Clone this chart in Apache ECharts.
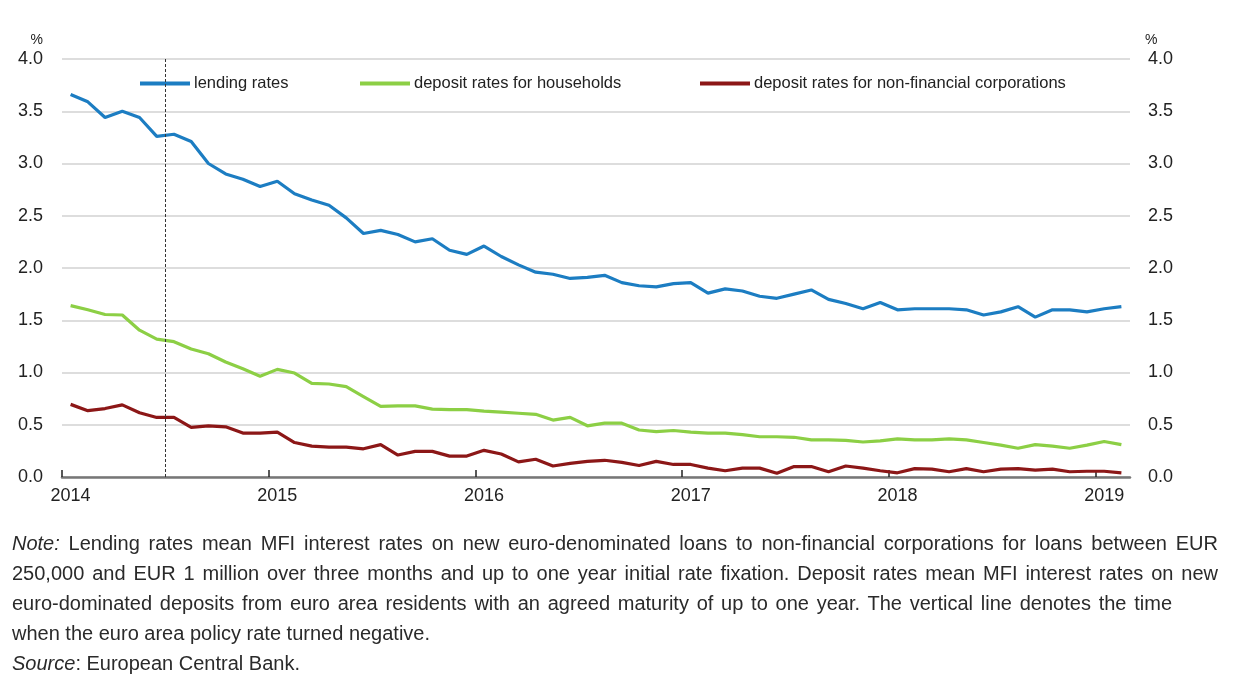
<!DOCTYPE html>
<html>
<head>
<meta charset="utf-8">
<script src="https://cdn.jsdelivr.net/npm/echarts@6/dist/echarts.min.js"></script>
<style>
  html, body { margin: 0; padding: 0; background: #fff; }
  #chart { position: absolute; left: 0; top: 0; width: 1241px; height: 679px; }
  #note { position: absolute; left: 12px; top: 528px; width: 1206px;
          font-family: "Liberation Sans", Arial, sans-serif; font-size: 20px; color: #2a2a2a; }
  #note div { height: 30px; line-height: 30px; white-space: nowrap; }
  #note .j { text-align: justify; text-align-last: justify; white-space: normal; overflow: hidden; }
</style>
</head>
<body>
<div id="chart"></div>
<div id="note">
  <div class="j"><i>Note:</i> Lending rates mean MFI interest rates on new euro-denominated loans to non-financial corporations for loans between EUR</div>
  <div class="j">250,000 and EUR 1 million over three months and up to one year initial rate fixation. Deposit rates mean MFI interest rates on new</div>
  <div class="j" style="width:1160px">euro-dominated deposits from euro area residents with an agreed maturity of up to one year. The vertical line denotes the time</div>
  <div>when the euro area policy rate turned negative.</div>
  <div><i>Source</i>: European Central Bank.</div>
</div>
<script>
// Monthly observations, Jan 2014 – Feb 2019
const months = [];
for (let y = 2014; y <= 2019; y++) {
  for (let m = 1; m <= 12; m++) {
    if (y === 2019 && m > 2) break;
    months.push(y + '-' + String(m).padStart(2, '0'));
  }
}
const lendingRates = [
  3.66, 3.59, 3.44, 3.50, 3.44, 3.26, 3.28, 3.21, 3.00, 2.90, 2.85, 2.78,
  2.83, 2.71, 2.65, 2.60, 2.48, 2.33, 2.36, 2.32, 2.25, 2.28, 2.17, 2.13,
  2.21, 2.11, 2.03, 1.96, 1.94, 1.90, 1.91, 1.93, 1.86, 1.83, 1.82, 1.85,
  1.86, 1.76, 1.80, 1.78, 1.73, 1.71, 1.75, 1.79, 1.70, 1.66, 1.61, 1.67,
  1.60, 1.61, 1.61, 1.61, 1.60, 1.55, 1.58, 1.63, 1.53, 1.60, 1.60, 1.58,
  1.61, 1.63
];
const depositHouseholds = [
  1.64, 1.60, 1.555, 1.55, 1.405, 1.32, 1.295, 1.225, 1.18, 1.10, 1.035, 0.965,
  1.03, 0.995, 0.895, 0.89, 0.865, 0.77, 0.675, 0.68, 0.68, 0.65, 0.645, 0.645,
  0.63, 0.62, 0.61, 0.60, 0.545, 0.57, 0.49, 0.515, 0.515, 0.45, 0.435, 0.445,
  0.43, 0.42, 0.42, 0.405, 0.385, 0.385, 0.38, 0.355, 0.355, 0.35, 0.335, 0.345,
  0.365, 0.355, 0.355, 0.365, 0.355, 0.33, 0.305, 0.275, 0.31, 0.295, 0.275, 0.305,
  0.34, 0.31
];
const depositCorporations = [
  0.695, 0.635, 0.655, 0.69, 0.615, 0.57, 0.57, 0.475, 0.49, 0.48, 0.42, 0.42,
  0.43, 0.33, 0.295, 0.285, 0.285, 0.27, 0.31, 0.21, 0.245, 0.245, 0.20, 0.20,
  0.255, 0.22, 0.145, 0.17, 0.105, 0.13, 0.15, 0.16, 0.14, 0.11, 0.15, 0.12,
  0.12, 0.085, 0.06, 0.085, 0.085, 0.035, 0.10, 0.10, 0.05, 0.105, 0.085, 0.06,
  0.04, 0.08, 0.075, 0.05, 0.08, 0.05, 0.075, 0.08, 0.065, 0.075, 0.05, 0.055,
  0.055, 0.04
];
const seriesNames = ['lending rates', 'deposit rates for households', 'deposit rates for non-financial corporations'];
const seriesColors = ['#1c7dc2', '#8ccf45', '#8c1717'];
const yearTicks = [2014, 2015, 2016, 2017, 2018, 2019];
const negativeRateDate = 2014.5; // policy rate turned negative, June 2014
const axisMin = 2014, axisMax = 2014 + months.length / 12;

// convert month string to fractional year at the middle of the month
function toYear(s) { const [y, m] = s.split('-').map(Number); return y + (m - 0.5) / 12; }
function pairs(vals) { return months.map((mm, i) => [toYear(mm), vals[i]]); }
// year labels sit under the January band, as in the original
const yearLabelPos = yearTicks.map(y => toYear(y + '-01'));

const FONT = '"Liberation Sans", Arial, sans-serif';
const chart = echarts.init(document.getElementById('chart'));
const legendLefts = [135, 355, 695];
chart.setOption({
  animation: false,
  backgroundColor: '#fff',
  textStyle: { fontFamily: FONT },
  grid: { left: 62, right: 111, top: 59, bottom: 202 },
  legend: seriesNames.map((n, i) => ({
    data: [n], left: legendLefts[i], top: 70, itemWidth: 50, itemHeight: 4, icon: 'rect',
    itemGap: 4, textStyle: { fontFamily: FONT, fontSize: 16.5, color: '#222', padding: [0, 0, 0, -1] }
  })),
  xAxis: {
    type: 'value', min: axisMin, max: axisMax, interval: 1,
    axisLine: { show: true, lineStyle: { color: '#777', width: 2.5 } },
    axisTick: { show: true, inside: true, length: 7, customValues: yearTicks, lineStyle: { color: '#222', width: 1.5 } },
    axisLabel: { customValues: yearLabelPos, formatter: v => String(Math.floor(v)), fontFamily: FONT, fontSize: 18, color: '#222', margin: 10 },
    splitLine: { show: false }
  },
  yAxis: [
    { type: 'value', min: 0, max: 4, interval: 0.5, position: 'left',
      name: '%', nameLocation: 'end', nameGap: 12,
      nameTextStyle: { fontFamily: FONT, fontSize: 14, color: '#222', align: 'right', padding: [0, 19, 0, 0] },
      axisLine: { show: false }, axisTick: { show: false },
      axisLabel: { formatter: v => v.toFixed(1), fontFamily: FONT, fontSize: 18, color: '#222', margin: 19 },
      splitLine: { show: true, lineStyle: { color: '#d2d2d2', width: 1.5 } } },
    { type: 'value', min: 0, max: 4, interval: 0.5, position: 'right',
      name: '%', nameLocation: 'end', nameGap: 12,
      nameTextStyle: { fontFamily: FONT, fontSize: 14, color: '#222', align: 'left', padding: [0, 0, 0, 15] },
      axisLine: { show: false }, axisTick: { show: false },
      axisLabel: { formatter: v => v.toFixed(1), fontFamily: FONT, fontSize: 18, color: '#222', margin: 18 },
      splitLine: { show: false } }
  ],
  series: [
    { name: seriesNames[0], type: 'line', data: pairs(lendingRates), showSymbol: false, symbol: 'none',
      lineStyle: { width: 3.2, color: seriesColors[0] }, itemStyle: { color: seriesColors[0] }, z: 3,
      markLine: { silent: true, symbol: 'none', label: { show: false },
        lineStyle: { type: [3, 2], color: '#333', width: 1 }, data: [{ xAxis: negativeRateDate }] } },
    { name: seriesNames[1], type: 'line', data: pairs(depositHouseholds), showSymbol: false, symbol: 'none',
      lineStyle: { width: 3.2, color: seriesColors[1] }, itemStyle: { color: seriesColors[1] } },
    { name: seriesNames[2], type: 'line', data: pairs(depositCorporations), showSymbol: false, symbol: 'none',
      lineStyle: { width: 3.2, color: seriesColors[2] }, itemStyle: { color: seriesColors[2] } }
  ]
});
</script>
</body>
</html>
